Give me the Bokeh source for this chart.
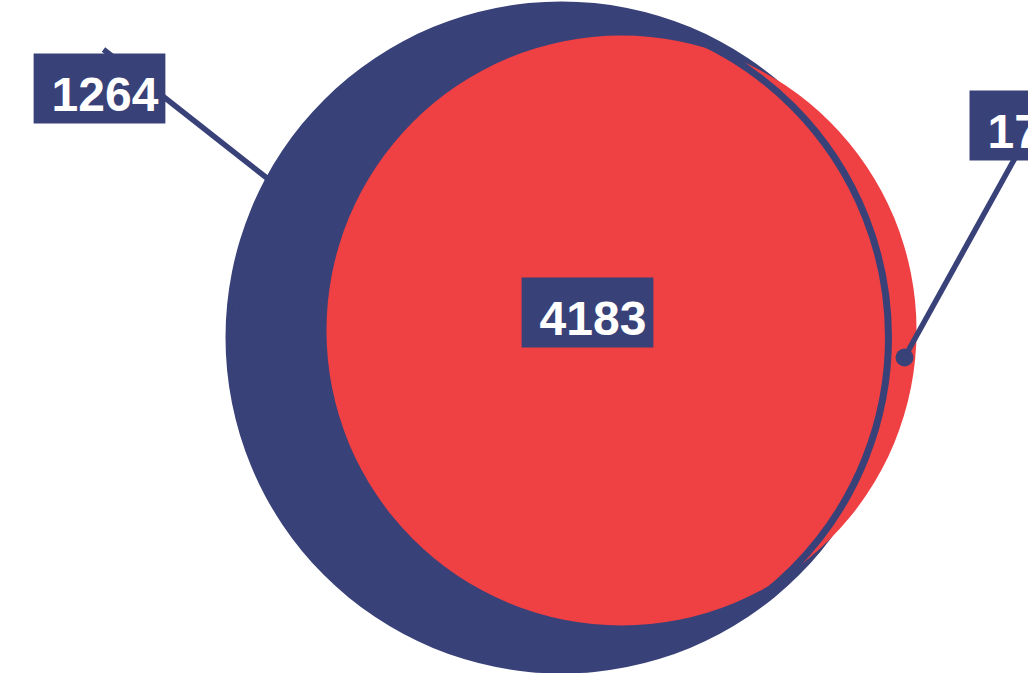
import math
from bokeh.plotting import figure
from bokeh.models import Range1d, ColumnDataSource
from bokeh.embed import file_html
from bokeh.resources import INLINE
from bokeh.core.properties import value

# ---------------- data ----------------
region_names = ["A only", "A and B", "B only"]
region_counts = [1264, 4183, 17]
region_labels = [str(c) for c in region_counts]
set_totals = [region_counts[0] + region_counts[1], region_counts[1] + region_counts[2]]

# ---------------- style / layout (pixel space) ----------------
BLUE = "#394179"
RED = "#EF4043"
FONT = "Liberation Sans"
FONT_PX = 48
BASELINE_FIX = -17

k = 336 / math.sqrt(set_totals[0])            # radius per sqrt(count)
radii = [k * math.sqrt(t) for t in set_totals]
cx = [561, 621]
cy = [337, 330]
inner_ring_offset = 9                          # outline ring of set A

# label text placement (center x, baseline y)
lab_x = [104.5, 592.5, 1013.7]
lab_y = [111, 335, 148]
# leader lines: (label anchor) -> (point in region)
lead_x0 = [103, None, 1053]
lead_y0 = [49, None, 88]
lead_x1 = [267, None, 904]
lead_y1 = [178, None, 357]

W, H = 1028, 673
p = figure(width=W, height=H, x_range=Range1d(0, W), y_range=Range1d(H, 0),
           output_backend="svg", toolbar_location=None, min_border=0)
p.axis.visible = False
p.grid.visible = False
p.outline_line_color = None
p.background_fill_color = "white"
p.border_fill_color = "white"

# set circles
p.circle(x=[cx[0]], y=[cy[0]], radius=[radii[0]], fill_color=BLUE, line_color=None)
p.circle(x=[cx[1]], y=[cy[1]], radius=[radii[1]], fill_color=RED, line_color=None)
p.circle(x=[cx[0]], y=[cy[0]], radius=[radii[0] - inner_ring_offset], fill_color=None,
         line_color=BLUE, line_width=7)

# leader lines
for i in range(3):
    if lead_x0[i] is None:
        continue
    p.line(x=[lead_x0[i], lead_x1[i]], y=[lead_y0[i], lead_y1[i]], line_color=BLUE,
           line_width=5.5)
# dot for B-only label
p.circle(x=[lead_x1[2]], y=[lead_y1[2]], radius=9, fill_color=BLUE, line_color=None)

# label boxes
adv = [len(t) * 0.556 * FONT_PX for t in region_labels]
box_l = [lab_x[i] - adv[i] / 2 - 18 for i in range(3)]
box_r = [lab_x[i] + adv[i] / 2 + 7 for i in range(3)]
box_t = [lab_y[i] - 58 for i in range(3)]
box_b = [lab_y[i] + 12 for i in range(3)]
p.quad(left=box_l, right=box_r, top=box_t, bottom=box_b, fill_color=BLUE, line_color=None)

src = ColumnDataSource(dict(x=lab_x, y=[y + BASELINE_FIX for y in lab_y], t=region_labels))
p.text(x="x", y="y", text="t", source=src, text_color="white",
       text_font=value(FONT), text_font_style="bold", text_font_size=f"{FONT_PX}px",
       text_align="center", text_baseline="alphabetic")

open("out.html", "w").write(file_html(p, INLINE))
